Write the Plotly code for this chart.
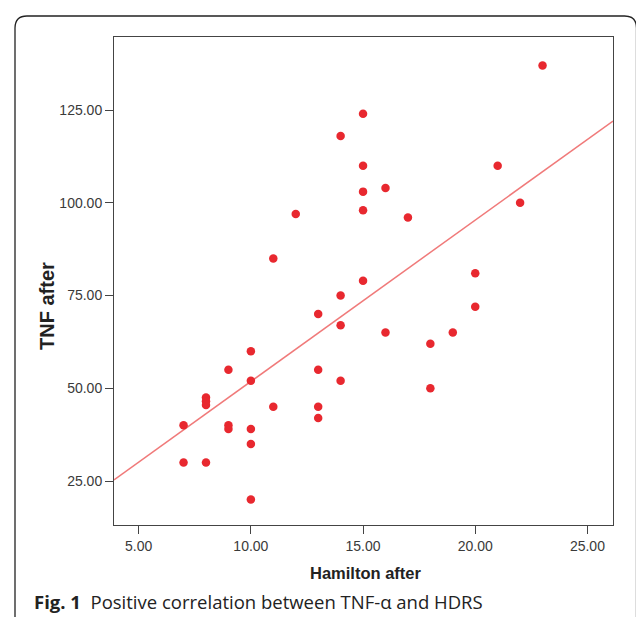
import plotly.graph_objects as go

# Data (Hamilton after vs TNF after)
hamilton_after = [23, 15, 14, 15, 21, 16, 15, 22, 15, 12, 17, 11, 20, 15, 14, 20, 13, 14,
                  16, 19, 18, 10, 9, 13, 10, 14, 18, 8, 8, 8, 11, 13, 13, 7, 9, 9, 10, 10,
                  7, 8, 10]
tnf_after = [137, 124, 118, 110, 110, 104, 103, 100, 98, 97, 96, 85, 81, 79, 75, 72, 70, 67,
             65, 65, 62, 60, 55, 55, 52, 52, 50, 47.5, 46.5, 45.5, 45, 45, 42, 40, 40, 39, 39, 35,
             30, 30, 20]
# fit line as drawn in the reference
fit_slope = 4.35
fit_intercept = 8.33
x_ticks = [5, 10, 15, 20, 25]
y_ticks = [25, 50, 75, 100, 125]
x_title = "Hamilton after"
y_title = "TNF after"
caption_bold = "Fig. 1"
caption_text = "Positive correlation between TNF-α and HDRS"

X_RANGE = [3.9, 26.14]
Y_RANGE = [13.14, 144.68]

fit_x = list(X_RANGE)
fit_y = [fit_intercept + fit_slope * v for v in fit_x]

W, H = 636, 617
ML, MR, MT, MB = 114, 23, 37, 92
PW, PH = W - ML - MR, H - MT - MB

def px(x):
    return (x - ML) / PW

def py(y):
    return 1 - (y - MT) / PH

fig = go.Figure()
fig.add_trace(go.Scatter(
    x=fit_x, y=fit_y, mode="lines",
    line=dict(color="#f07a7a", width=1.5),
    hoverinfo="skip", showlegend=False,
))
fig.add_trace(go.Scatter(
    x=hamilton_after, y=tnf_after, mode="markers",
    marker=dict(color="#e8282f", size=8.5, line=dict(width=0)),
    showlegend=False,
))

tick_font = dict(family="Liberation Sans, Arial, sans-serif", size=14, color="#3a3a3a")
axis_common = dict(
    showgrid=False, zeroline=False, showline=True, linecolor="#444", linewidth=1,
    mirror=True, ticks="outside", ticklen=8, tickcolor="#444", tickwidth=1,
    tickfont=tick_font, tickformat=".2f",
)
fig.update_xaxes(range=X_RANGE, tickvals=x_ticks, **axis_common)
fig.update_yaxes(range=Y_RANGE, tickvals=y_ticks, **axis_common)

# outer rounded frame
x0, x1 = px(15), px(636.5)
y0, y1 = py(16), py(640)
r = 12
rx, ry = r / PW, r / PH
path = (f"M {x0},{y1} L {x0},{y0 - ry} Q {x0},{y0} {x0 + rx},{y0} "
        f"L {x1 - rx},{y0} Q {x1},{y0} {x1},{y0 - ry} L {x1},{y1}")
fig.add_shape(type="path", path=path, xref="paper", yref="paper",
              line=dict(color="#222", width=1.3), layer="below")

fig.add_annotation(
    text=f"<b>{x_title}</b>", xref="paper", yref="paper", x=px(366), y=py(573),
    xanchor="center", yanchor="middle", showarrow=False,
    font=dict(family="Liberation Sans, Arial, sans-serif", size=16.5, color="#222"),
)
fig.add_annotation(
    text=f"<b>{y_title}</b>", xref="paper", yref="paper", x=px(46.5), y=py(306.5),
    xanchor="center", yanchor="middle", showarrow=False, textangle=-90,
    font=dict(family="Liberation Sans, Arial, sans-serif", size=20, color="#222"),
)
fig.add_annotation(
    text=f"<b>{caption_bold}</b>\u00a0\u00a0{caption_text}", xref="paper", yref="paper",
    x=px(32), y=py(601), xanchor="left", yanchor="middle", showarrow=False,
    font=dict(family="Open Sans, Noto Sans, sans-serif", size=18.5, color="#222"),
)

fig.update_layout(
    width=W, height=H, margin=dict(l=ML, r=MR, t=MT, b=MB, autoexpand=False),
    paper_bgcolor="white", plot_bgcolor="white",
)
fig.write_html("out.html", config={"displayModeBar": False},
               post_script="document.body.style.margin='0';document.body.style.overflow='hidden';")
